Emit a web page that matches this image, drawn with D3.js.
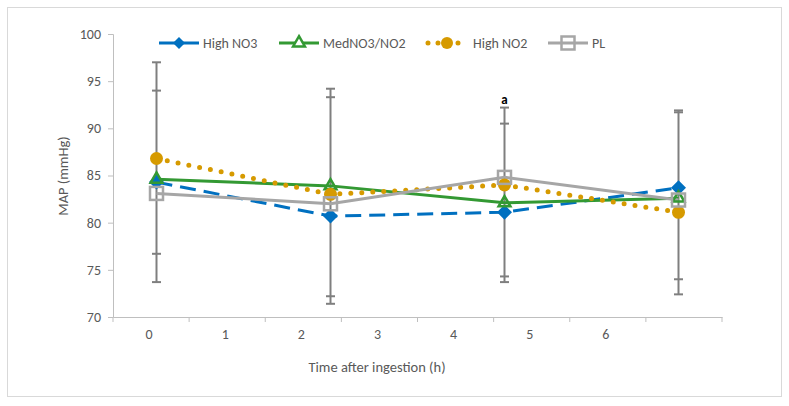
<!DOCTYPE html>
<html><head><meta charset="utf-8">
<script src="https://cdn.jsdelivr.net/npm/d3@7"></script>
<style>body{margin:0;background:#fff}svg{display:block}text{font-family:Calibri,Carlito,Lato,"Open Sans","Liberation Sans",sans-serif}</style>
</head><body><svg id="c" width="789" height="406"></svg>
<script>
const xLabels = ["0","1","2","3","4","5","6",""];
const times = [0, 2, 4, 6];
const seriesNames = ["High NO3", "MedNO3/NO2", "High NO2", "PL"];
const highNO3 = [84.3, 80.7, 81.1, 83.7];
const medNO3NO2 = [84.6, 83.9, 82.1, 82.6];
const highNO2 = [86.8, 83.0, 84.0, 81.1];
const pl = [83.1, 82.0, 84.8, 82.4];
// error bar cap values per time point
const errCaps = [
  [97.0, 94.0, 76.7, 73.7],
  [94.2, 93.3, 72.2, 71.4],
  [92.2, 90.5, 74.3, 73.7],
  [91.9, 91.7, 74.0, 72.4]
];
const yTicks = [70, 75, 80, 85, 90, 95, 100];
const annotation = {t: 4, text: "a"};

const svg = d3.select("#c");
const L = 113, R = 722, T = 34, B = 317;
svg.append("rect").attr("x", 7.5).attr("y", 7.5).attr("width", 774).attr("height", 389)
  .attr("fill", "#fff").attr("stroke", "#d9d9d9");

const y = d3.scaleLinear().domain([70, 100]).range([B, T]);
const xBand = d3.scaleBand().domain(xLabels).range([L, R]);
const x = d3.scaleLinear().domain([-0.5, 6.5]).range([L, R]);

// y axis
const ya = svg.append("g").attr("transform", `translate(${L},0)`)
  .call(d3.axisLeft(y).tickValues(yTicks).tickSize(5).tickPadding(7));
ya.select(".domain").attr("stroke", "#bfbfbf");
ya.selectAll(".tick line").attr("stroke", "#bfbfbf");
ya.selectAll(".tick text").attr("fill", "#595959").style("font-size", "14px");

// x axis
const xa = svg.append("g").attr("transform", `translate(0,${B})`)
  .call(d3.axisBottom(xBand).tickSize(0).tickPadding(12));
xa.select(".domain").attr("stroke", "#bfbfbf");
xa.selectAll(".tick text").attr("fill", "#595959").style("font-size", "14px").attr("dx", "-2");
xa.selectAll(".xt").data(d3.range(xLabels.length + 1)).enter().append("line")
  .attr("x1", i => L + i * xBand.step()).attr("x2", i => L + i * xBand.step())
  .attr("y1", 0).attr("y2", 5).attr("stroke", "#bfbfbf");

svg.append("text").attr("x", 377).attr("y", 372).attr("text-anchor", "middle")
  .attr("fill", "#595959").style("font-size", "14.5px").text("Time after ingestion (h)");
svg.append("text").attr("transform", `translate(68,176) rotate(-90)`).attr("text-anchor", "middle")
  .attr("fill", "#595959").style("font-size", "14.5px").text("MAP (mmHg)");

// error bars
const eb = svg.append("g").attr("stroke", "#7f7f7f").attr("stroke-width", 2);
times.forEach((t, i) => {
  const caps = errCaps[i];
  eb.append("line").attr("x1", x(t)).attr("x2", x(t))
    .attr("y1", y(d3.max(caps))).attr("y2", y(d3.min(caps)));
  caps.forEach(c => eb.append("line").attr("x1", x(t) - 4.5).attr("x2", x(t) + 4.5)
    .attr("y1", y(c)).attr("y2", y(c)));
});

const styles = [
  {data: highNO3, color: "#0070c0", dash: "16 8", cap: "butt", marker: "diamond"},
  {data: medNO3NO2, color: "#339933", dash: null, cap: "butt", marker: "triangle"},
  {data: highNO2, color: "#d69a00", dash: "0 11", cap: "round", marker: "circle"},
  {data: pl, color: "#a6a6a6", dash: null, cap: "butt", marker: "square"}
];
const line = d3.line().x((d, i) => x(times[i])).y(d => y(d));

function drawMarker(g, type, cx, cy, color, big) {
  if (type === "diamond") {
    const w = big ? 7.5 : 6, h = big ? 7.5 : 6;
    g.append("path").attr("d", `M${cx},${cy - h}L${cx + w},${cy}L${cx},${cy + h}L${cx - w},${cy}Z`)
      .attr("fill", color);
  } else if (type === "triangle") {
    g.append("path").attr("d", d3.symbol(d3.symbolTriangle, 60)())
      .attr("transform", `translate(${cx},${cy})`).attr("fill", big ? "none" : "#fff")
      .attr("stroke", color).attr("stroke-width", 2.5);
  } else if (type === "circle") {
    g.append("circle").attr("cx", cx).attr("cy", cy).attr("r", big ? 6.5 : 6).attr("fill", color);
  } else {
    g.append("rect").attr("x", cx - 6.5).attr("y", cy - 6.5).attr("width", 13).attr("height", 13)
      .attr("fill", "none").attr("stroke", color).attr("stroke-width", 2.5);
  }
}

const lg = svg.append("g");
styles.forEach(s => {
  lg.append("path").datum(s.data).attr("d", line).attr("fill", "none")
    .attr("stroke", s.color).attr("stroke-width", s.cap === "round" ? 5 : 3)
    .attr("stroke-dasharray", s.dash).attr("stroke-linecap", s.cap);
});
styles.forEach(s => {
  s.data.forEach((v, i) => drawMarker(lg, s.marker, x(times[i]), y(v), s.color, true));
});

// annotation
svg.append("text").attr("x", x(annotation.t)).attr("y", 104).attr("text-anchor", "middle")
  .style("font-size", "13px").style("font-weight", "bold").attr("fill", "#000").text(annotation.text);

// legend
const legendX = [159, 279, 427, 548];
const leg = svg.append("g");
styles.forEach((s, i) => {
  const lx = legendX[i], ly = 43;
  leg.append("line").attr("x1", lx).attr("x2", lx + 40).attr("y1", ly).attr("y2", ly)
    .attr("stroke", s.color).attr("stroke-width", s.cap === "round" ? 5 : 3)
    .attr("stroke-dasharray", s.cap === "round" ? "0 10" : null).attr("stroke-linecap", s.cap)
    .attr("transform", s.cap === "round" ? "translate(1,0)" : null);
  drawMarker(leg, s.marker, lx + 20, ly, s.color, false);
  leg.append("text").attr("x", lx + (s.cap === "round" ? 46 : 44)).attr("y", ly + 5)
    .attr("fill", "#595959").style("font-size", "14px").text(seriesNames[i]);
});
</script></body></html>
